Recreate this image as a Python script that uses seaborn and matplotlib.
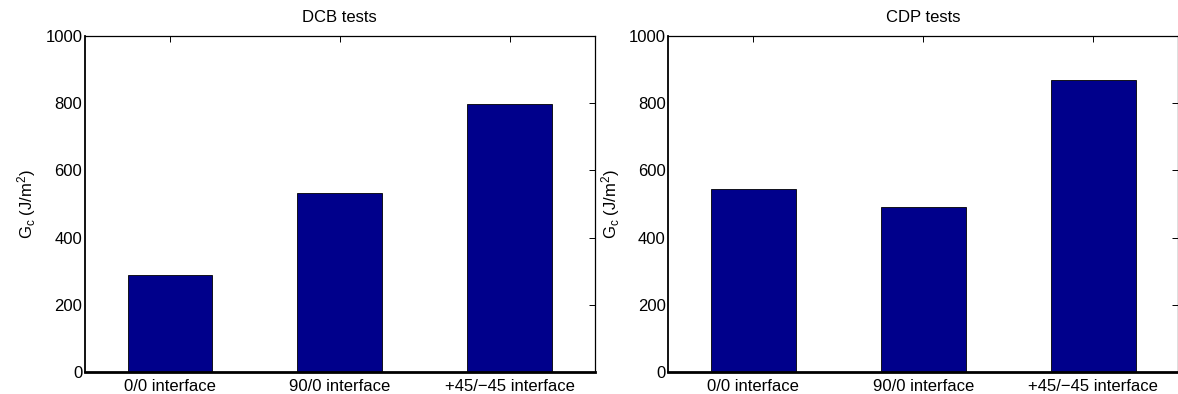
import pandas as pd
import seaborn as sns
import matplotlib.pyplot as plt

# Data
interfaces = ["0/0 interface", "90/0 interface", "+45/\u221245 interface"]
dcb_gc = [290, 532, 797]
cdp_gc = [546, 491, 868]
yticks = [0, 200, 400, 600, 800, 1000]

sns.set_style("white")
plt.rcParams['font.family'] = ['Liberation Sans', 'DejaVu Sans']
plt.rcParams['mathtext.default'] = 'regular'
plt.rcParams['text.color'] = 'black'
plt.rcParams['axes.labelcolor'] = 'black'

fig, axes = plt.subplots(1, 2, figsize=(11.78, 3.94), dpi=100)
fig.subplots_adjust(left=0.0722, right=1.0, bottom=0.0558, top=0.9086, wspace=0.145)

for ax, vals, title in zip(axes, [dcb_gc, cdp_gc], ["DCB tests", "CDP tests"]):
    df = pd.DataFrame({'interface': interfaces, 'gc': vals})
    sns.barplot(data=df, x='interface', y='gc', color='#00008b', saturation=1,
                width=0.5, edgecolor='black', linewidth=0.6, ax=ax)
    ax.set_xlim(-0.5, 2.5)
    ax.set_ylim(0, 1000)
    ax.set_yticks(yticks)
    ax.set_title(title, fontsize=12, pad=10, color='black')
    ax.set_xlabel('')
    ax.set_ylabel('G$_c$ (J/m$^2$)', fontsize=12, labelpad=5, color='black')
    ax.tick_params(direction='in', length=4, width=0.7, top=True, right=True,
                   labelsize=12, colors='black')
    ax.tick_params(axis='x', pad=5)
    ax.tick_params(axis='y', pad=2)
    for side in ['top', 'right']:
        ax.spines[side].set_linewidth(0.9)
        ax.spines[side].set_color('black')
    ax.spines['left'].set_linewidth(1.3)
    ax.spines['left'].set_color('black')
    ax.spines['bottom'].set_linewidth(2)
    ax.spines['bottom'].set_color('black')

plt.savefig('out.png', dpi=100)
